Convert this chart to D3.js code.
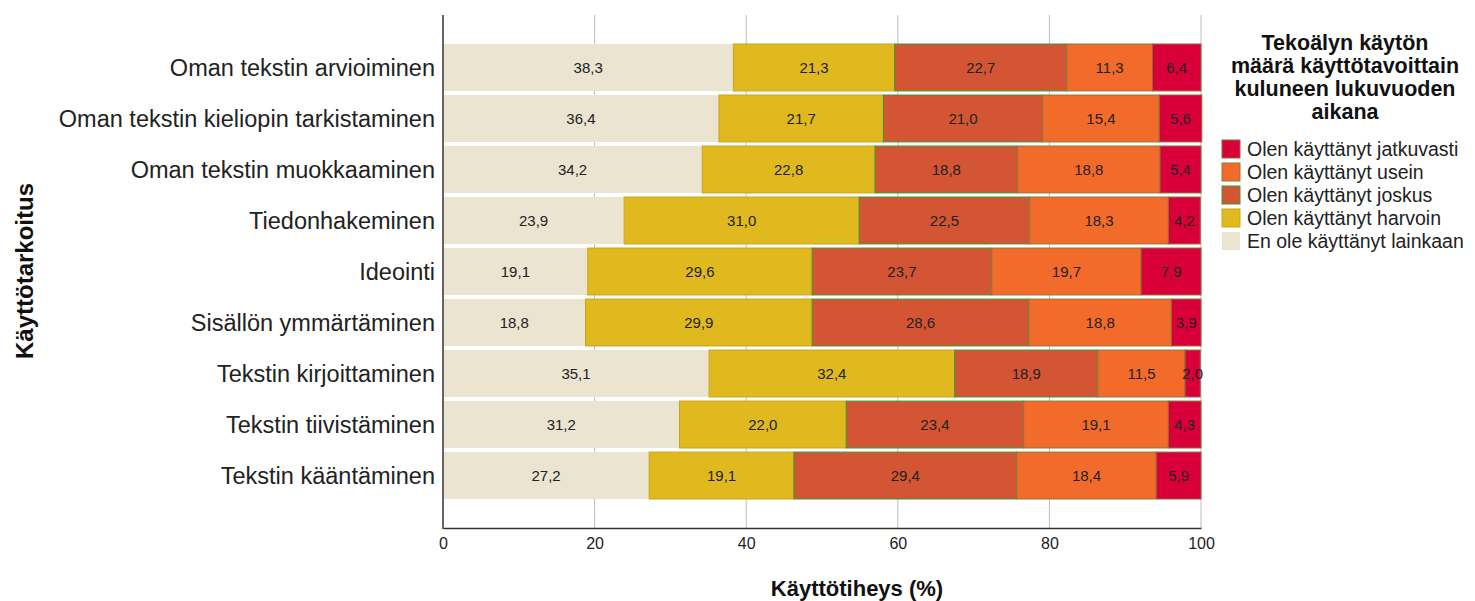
<!DOCTYPE html>
<html><head><meta charset="utf-8">
<script src="https://cdn.jsdelivr.net/npm/d3@7"></script>
<style>body{margin:0;background:#fff;}svg{font-family:"Liberation Sans",Arial,sans-serif;}</style>
</head><body>
<svg id="c" width="1475" height="601"></svg>
<script>
const categories = ["Oman tekstin arvioiminen","Oman tekstin kieliopin tarkistaminen","Oman tekstin muokkaaminen","Tiedonhakeminen","Ideointi","Sisällön ymmärtäminen","Tekstin kirjoittaminen","Tekstin tiivistäminen","Tekstin kääntäminen"];
const seriesNames = ["En ole käyttänyt lainkaan","Olen käyttänyt harvoin","Olen käyttänyt joskus","Olen käyttänyt usein","Olen käyttänyt jatkuvasti"];
const lainkaan = [38.3,36.4,34.2,23.9,19.1,18.8,35.1,31.2,27.2];
const harvoin = [21.3,21.7,22.8,31.0,29.6,29.9,32.4,22.0,19.1];
const joskus = [22.7,21.0,18.8,22.5,23.7,28.6,18.9,23.4,29.4];
const usein = [11.3,15.4,18.8,18.3,19.7,18.8,11.5,19.1,18.4];
const jatkuvasti = [6.4,5.6,5.4,4.2,7.9,3.9,2.0,4.3,5.9];
const xTicks = [0,20,40,60,80,100];
const colors = ["#ebe4d1","#e0b91f","#d35534","#f26b2a","#d9003a"];
const strokes = ["#ebe4d1","#c9a51a","#3d9a35","#8a7a3a","#8a6a3a"];
const legendTitle = ["Tekoälyn käytön","määrä käyttötavoittain","kuluneen lukuvuoden","aikana"];

const seriesVals = [lainkaan,harvoin,joskus,usein,jatkuvasti];
const data = categories.map((c,i)=>{const o={cat:c}; seriesNames.forEach((s,j)=>o[s]=seriesVals[j][i]); return o;});
const stack = d3.stack().keys(seriesNames)(data);

const svg = d3.select("#c");
const x = d3.scaleLinear().domain([0,100]).range([443,1201]);
const y = d3.scaleBand().domain(categories).range([44,499]).paddingInner(0.08).paddingOuter(0);
const plotTop=15, plotBottom=528;

// grid
svg.append("g").selectAll("line").data(xTicks.slice(1)).join("line")
  .attr("x1",d=>x(d)).attr("x2",d=>x(d)).attr("y1",plotTop).attr("y2",plotBottom)
  .attr("stroke","#bdbdbd").attr("stroke-width",1);

// bars
const g = svg.append("g");
stack.forEach((layer,j)=>{
  g.append("g").selectAll("rect").data(layer).join("rect")
    .attr("x",d=>x(d[0])).attr("width",d=>x(d[1])-x(d[0]))
    .attr("y",d=>y(d.data.cat)).attr("height",y.bandwidth())
    .attr("fill",colors[j]).attr("stroke",strokes[j]).attr("stroke-width",j===0?0:1);
});
stack.forEach((layer,j)=>{
  g.append("g").selectAll("text").data(layer).join("text")
    .attr("x",d=>(x(d[0])+x(d[1]))/2).attr("y",d=>y(d.data.cat)+y.bandwidth()/2+5.5)
    .attr("text-anchor","middle").attr("font-size",15).attr("fill","#222")
    .text(d=>d3.format(".1f")(d[1]-d[0]).replace(".",","));
});

// axes
const xa = svg.append("g").attr("transform",`translate(0,${plotBottom})`)
  .call(d3.axisBottom(x).tickValues(xTicks).tickSize(0).tickPadding(10));
xa.select(".domain").attr("stroke","#333").attr("stroke-width",1.5);
xa.selectAll("text").attr("font-size",16).attr("fill","#222").attr("font-family","'Liberation Sans',Arial,sans-serif");

const ya = svg.append("g").attr("transform",`translate(443,0)`)
  .call(d3.axisLeft(y).tickSize(0).tickPadding(8));
ya.select(".domain").remove();
ya.selectAll("text").attr("font-size",23.5).attr("fill","#222").attr("dy","0.35em").attr("font-family","'Liberation Sans',Arial,sans-serif");
svg.append("line").attr("x1",443).attr("x2",443).attr("y1",plotTop).attr("y2",plotBottom+1).attr("stroke","#333").attr("stroke-width",1.5);

// axis titles
svg.append("text").attr("x",857).attr("y",596).attr("text-anchor","middle")
  .attr("font-size",22).attr("font-weight","bold").attr("fill","#111").text("Käyttötiheys (%)");
svg.append("text").attr("transform","translate(33,271) rotate(-90)").attr("text-anchor","middle")
  .attr("font-size",24).attr("font-weight","bold").attr("fill","#111").text("Käyttötarkoitus");

// legend
const lg = svg.append("g");
lg.selectAll("text.t").data(legendTitle).join("text").attr("class","t")
  .attr("x",1345).attr("y",(d,i)=>50+i*23).attr("text-anchor","middle")
  .attr("font-size",21.5).attr("font-weight","bold").attr("fill","#111").text(d=>d);
const order = [4,3,2,1,0];
const items = lg.selectAll("g.i").data(order).join("g").attr("class","i")
  .attr("transform",(d,i)=>`translate(1222,${140+i*23})`);
items.append("rect").attr("width",18).attr("height",18).attr("fill",d=>colors[d])
  .attr("stroke",d=>d===0?"none":strokes[d]).attr("stroke-width",1);
items.append("text").attr("x",25).attr("y",16).attr("font-size",19.5).attr("fill","#222")
  .text(d=>seriesNames[d]);
</script>
</body></html>
